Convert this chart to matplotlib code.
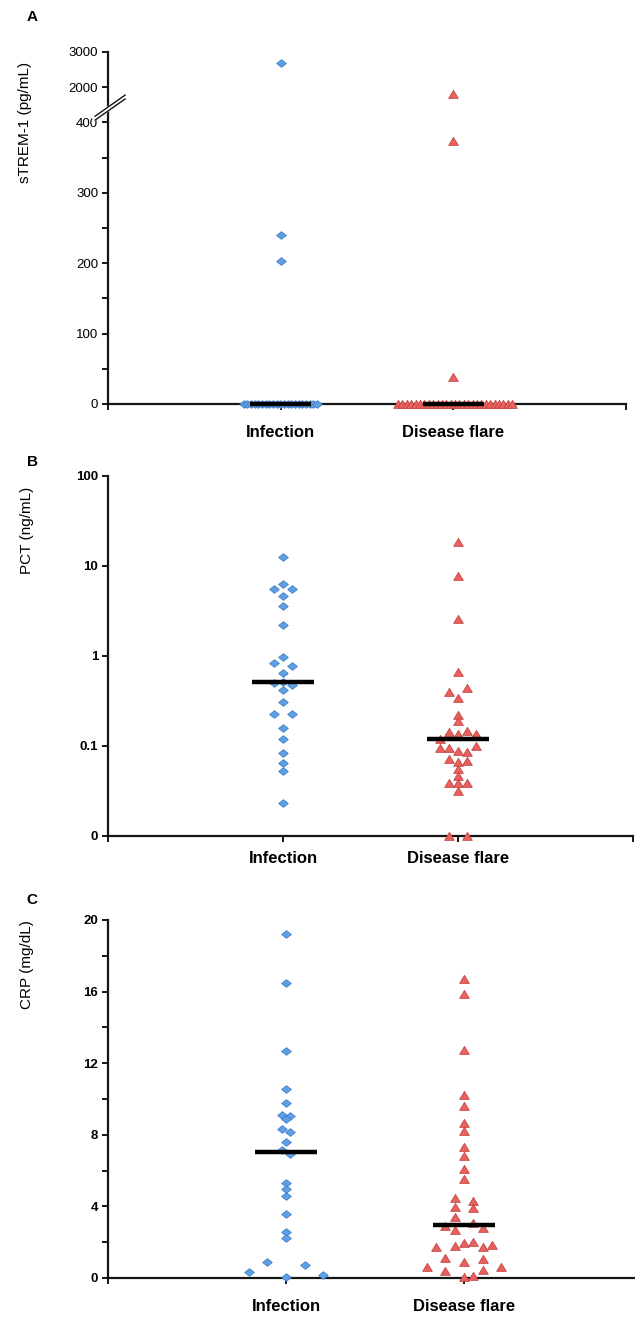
import numpy as np
import matplotlib
matplotlib.use('Agg')
from matplotlib import pyplot as plt
from matplotlib.path import Path
from matplotlib.scale import FuncScale

plt.rcParams['font.family'] = ['Liberation Sans', 'DejaVu Sans']

categories = ['Infection', 'Disease flare']

# panel A: sTREM-1 (pg/mL)
strem_inf = [2700, 240, 203] + [0] * 21
strem_flare = [1700, 373, 38] + [0] * 27
strem_median = [0, 0]

# panel B: PCT (ng/mL), zeros sit on the bottom of the log axis
pct_inf = [12.7, 5.6, 6.3, 5.6, 4.6, 3.6, 2.2, 0.98, 0.84, 0.78, 0.64, 0.50,
           0.52, 0.48, 0.42, 0.31, 0.225, 0.225, 0.16, 0.12, 0.084, 0.064,
           0.053, 0.023]
pct_inf_slot = [0, -1, 0, 1, 0, 0, 0, 0, -1, 1, 0, -1,
                0, 1, 0, 0, -1, 1, 0, 0, 0, 0,
                0, 0]
pct_flare = [18.6, 7.7, 2.6, 0.67, 0.40, 0.44, 0.34, 0.22, 0.19, 0.12,
             0.142, 0.135, 0.148, 0.135, 0.094, 0.094, 0.089, 0.085, 0.10,
             0.072, 0.067, 0.069, 0.056, 0.046, 0.039, 0.039, 0.039, 0.032,
             0, 0]
pct_flare_slot = [0, 0, 0, 0, -1, 1, 0, 0, 0, -2,
                  -1, 0, 1, 2, -2, -1, 0, 1, 2,
                  -1, 0, 1, 0, 0, -1, 0, 1, 0,
                  -1, 1]
pct_median = [0.52, 0.12]

# panel C: CRP (mg/dL)
crp_inf = [19.2, 16.5, 12.7, 10.56, 9.76, 9.1, 9.07, 8.9, 8.34, 8.16, 7.6,
           7.15, 6.93, 5.29, 5.0, 4.58, 3.57, 2.59, 2.22, 0.32, 0.89, 0.07,
           0.73, 0.17]
crp_inf_slot = [0, 0, 0, 0, 0, -0.45, 0.45, 0, -0.45, 0.45, 0,
                -0.45, 0.45, 0, 0, 0, 0, 0, 0, -4, -2, 0,
                2, 4]
crp_flare = [16.7, 15.85, 12.74, 10.2, 9.63, 8.68, 8.21, 7.34, 6.82, 6.07,
             5.51, 4.45, 4.32, 3.98, 3.89, 3.43, 2.92, 2.68, 3.06, 2.78,
             1.75, 1.80, 1.94, 2.03, 1.75, 1.84, 1.10, 0.91, 1.06, 0.60,
             0.41, 0.45, 0.63, 0.07, 0.13]
crp_flare_slot = [0, 0, 0, 0, 0, 0, 0, 0, 0, 0,
                  0, -1, 1, -1, 1, -1, -2, -1, 1, 2,
                  -3, -1, 0, 1, 2, 3, -2, 0, 2, -4,
                  -2, 2, 4, 0, 1]
crp_median = [7.06, 2.96]

BLUE, BLUE_EDGE = '#5F9FE4', '#3F7FC8'
RED, RED_EDGE = '#E8615F', '#C44543'
SLOT = 0.052          # one marker step, in x data units
HALF_BAR = 0.175

diamond = Path([(-1, 0), (0, 0.8), (1, 0), (0, -0.8), (-1, 0)],
               [Path.MOVETO, Path.LINETO, Path.LINETO, Path.LINETO, Path.CLOSEPOLY])
triangle = Path([(-1, -0.8), (1, -0.8), (0, 0.85), (-1, -0.8)],
                [Path.MOVETO, Path.LINETO, Path.LINETO, Path.CLOSEPOLY])

fig = plt.figure(figsize=(6.35, 13.17), dpi=100)
W, H = 635, 1317


def px_axes(left, top, right, bottom):
    return fig.add_axes([left / W, 1 - bottom / H, (right - left) / W, (bottom - top) / H])


def style(ax, bold_ticks, pad):
    for s in ['top', 'right']:
        ax.spines[s].set_visible(False)
    for s in ['left', 'bottom']:
        ax.spines[s].set_linewidth(1.6)
        ax.spines[s].set_color('#151515')
    ax.tick_params(axis='both', which='both', direction='out', width=1.4, color='#151515')
    ax.tick_params(axis='y', which='major', length=4, labelsize=9.5, pad=3)
    ax.tick_params(axis='y', which='minor', length=4)
    ax.tick_params(axis='x', length=4, labelsize=12, pad=pad)
    ax.set_xlim(0, 3)
    ax.set_xticks([0, 1, 2, 3])
    ax.set_xticklabels([''] + categories + [''])
    for lab in ax.get_xticklabels():
        lab.set_fontweight('bold')
    if bold_ticks:
        for lab in ax.get_yticklabels():
            lab.set_fontweight('bold')


def draw_group(ax, x, vals, slots, marker, color, edge, med):
    xs = x + np.array(slots) * SLOT
    ax.scatter(xs, vals, marker=marker, s=48, color=color, edgecolors=edge,
               linewidths=0.6, zorder=3, clip_on=False)
    ax.plot([x - HALF_BAR, x + HALF_BAR], [med, med], color='black', lw=3.2,
            solid_capstyle='butt', zorder=4, clip_on=False)


# ---- panel A, broken y axis through a piecewise scale ----
def fwd(y):
    y = np.asarray(y, dtype=float)
    return np.where(y <= 400, y,
                    np.where(y <= 2000, 400 + (y - 400) * 50 / 1600, 450 + (y - 2000) * 0.05))


def inv(u):
    u = np.asarray(u, dtype=float)
    return np.where(u <= 400, u,
                    np.where(u <= 450, 400 + (u - 400) * 32, 2000 + (u - 450) * 20))


axA = px_axes(108, 52, 626, 404)
axA.set_yscale(FuncScale(axA, (fwd, inv)))
axA.set_ylim(0, 3000)
axA.set_yticks([0, 100, 200, 300, 400, 2000, 3000])
axA.set_yticks([50, 150, 250, 350], minor=True)
axA.set_yticklabels(['0', '100', '200', '300', '400', '2000', '3000'])
style(axA, False, 11)

n0 = strem_inf.count(0)
slotsA_inf = [0, 0, 0] + list(np.linspace(-0.215, 0.21, n0) / SLOT)
n1 = strem_flare.count(0)
slotsA_flare = [0, 0, 0] + list(np.linspace(-0.32, 0.34, n1) / SLOT)
draw_group(axA, 1, strem_inf, slotsA_inf, diamond, BLUE, BLUE_EDGE, strem_median[0])
draw_group(axA, 2, strem_flare, slotsA_flare, triangle, RED, RED_EDGE, strem_median[1])

# break marks on the y axis
bx = np.array([-0.025, 0.033])
by = np.array([0.812, 0.872])
axA.plot(bx, by, transform=axA.transAxes, color='white', lw=3.5, clip_on=False, zorder=5)
for d in (-0.0055, 0.0055):
    axA.plot(bx, by + d, transform=axA.transAxes, color='#151515', lw=1.0,
             clip_on=False, zorder=6)

# ---- panel B, log scale ----
axB = px_axes(108, 476, 633, 836)
axB.set_yscale('log')
axB.set_ylim(0.01, 100)
axB.set_yticks([0.01, 0.1, 1, 10, 100])
axB.set_yticklabels(['0', '0.1', '1', '10', '100'])
axB.yaxis.set_minor_locator(matplotlib.ticker.NullLocator())
style(axB, True, 7)
pct_inf_plot = np.where(np.array(pct_inf) > 0, pct_inf, 0.01)
pct_flare_plot = np.where(np.array(pct_flare) > 0, pct_flare, 0.01)
draw_group(axB, 1, pct_inf_plot, pct_inf_slot, diamond, BLUE, BLUE_EDGE, pct_median[0])
draw_group(axB, 2, pct_flare_plot, pct_flare_slot, triangle, RED, RED_EDGE, pct_median[1])

# ---- panel C ----
axC = px_axes(108, 920, 642, 1278)
axC.set_ylim(0, 20)
axC.set_yticks([0, 4, 8, 12, 16, 20])
axC.set_yticks([2, 6, 10, 14, 18], minor=True)
style(axC, True, 11)
draw_group(axC, 1, crp_inf, crp_inf_slot, diamond, BLUE, BLUE_EDGE, crp_median[0])
draw_group(axC, 2, crp_flare, crp_flare_slot, triangle, RED, RED_EDGE, crp_median[1])

# axis titles and panel letters
fig.text(25 / W, 1 - 62 / H, 'sTREM-1 (pg/mL)', rotation=90, ha='center', va='top', fontsize=11)
fig.text(27 / W, 1 - 487 / H, 'PCT (ng/mL)', rotation=90, ha='center', va='top', fontsize=11)
fig.text(27 / W, 1 - 920 / H, 'CRP (mg/dL)', rotation=90, ha='center', va='top', fontsize=11)
for letter, ypx in (('A', 17), ('B', 462), ('C', 900)):
    fig.text(32 / W, 1 - ypx / H, letter, ha='center', va='center', fontsize=11, fontweight='bold')

fig.savefig('out.png', dpi=100)
